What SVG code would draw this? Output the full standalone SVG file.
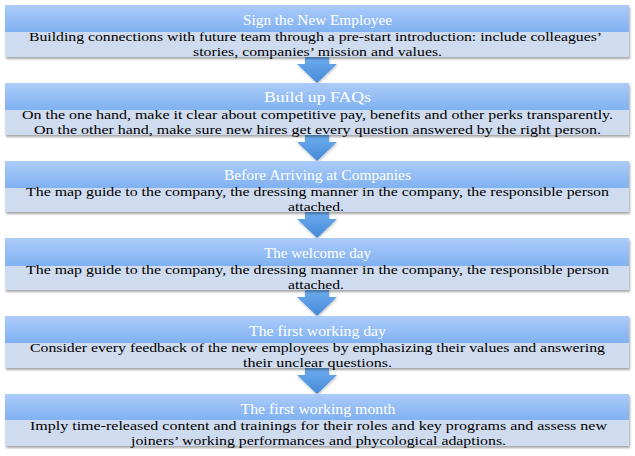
<svg xmlns="http://www.w3.org/2000/svg" width="635" height="456" viewBox="0 0 635 456">
<defs>
<linearGradient id="hdr" x1="0" y1="0" x2="0" y2="1">
<stop offset="0" stop-color="#acccfa"/>
<stop offset="1" stop-color="#80b1f1"/>
</linearGradient>
<linearGradient id="arr" x1="0" y1="0" x2="0" y2="1">
<stop offset="0" stop-color="#6cadee"/>
<stop offset="1" stop-color="#4689d8"/>
</linearGradient>
<filter id="sh" x="-5%" y="-20%" width="110%" height="150%">
<feDropShadow dx="1" dy="2" stdDeviation="1.3" flood-color="#000" flood-opacity="0.35"/>
</filter>
<filter id="ash" x="-30%" y="-30%" width="160%" height="160%">
<feDropShadow dx="0.5" dy="1.5" stdDeviation="1" flood-color="#000" flood-opacity="0.25"/>
</filter>
</defs>
<style>
.body{fill:#cfdbee}
.head{fill:url(#hdr)}
.t{font-family:"Liberation Serif","Times New Roman",serif;text-anchor:middle}
.h{font-size:15px;fill:#ffffff}
.b{font-size:13.5px;fill:#000000}
.a{fill:url(#arr)}
</style>
<g id="connectors" filter="url(#ash)">
<path class="a" d="M305,57 H329 V64 H337 L317,83 L297,64 H305 Z"/>
<path class="a" d="M305,135 H329 V142 H337 L317,161 L297,142 H305 Z"/>
<path class="a" d="M305,212 H329 V219 H337 L317,238 L297,219 H305 Z"/>
<path class="a" d="M305,290 H329 V297 H337 L317,316 L297,297 H305 Z"/>
<path class="a" d="M305,368 H329 V375 H337 L317,394 L297,375 H305 Z"/>
</g>
<g id="node1">
<g filter="url(#sh)"><rect class="body" x="5" y="5" width="624" height="52"/></g>
<rect class="head" x="5" y="5" width="624" height="27"/>
<text class="t h" x="317.5" y="25" textLength="149" lengthAdjust="spacingAndGlyphs">Sign the New Employee</text>
<text class="t b" x="315.5" y="41" textLength="573" lengthAdjust="spacingAndGlyphs">Building connections with future team through a pre-start introduction: include colleagues’</text>
<text class="t b" x="317.5" y="56" textLength="249" lengthAdjust="spacingAndGlyphs">stories, companies’ mission and values.</text>
</g>
<g id="node2">
<g filter="url(#sh)"><rect class="body" x="5" y="83" width="624" height="52"/></g>
<rect class="head" x="5" y="83" width="624" height="27"/>
<text class="t h" x="317.5" y="102" textLength="107" lengthAdjust="spacingAndGlyphs">Build up FAQs</text>
<text class="t b" x="317.5" y="119" textLength="591" lengthAdjust="spacingAndGlyphs">On the one hand, make it clear about competitive pay, benefits and other perks transparently.</text>
<text class="t b" x="317.5" y="134" textLength="567" lengthAdjust="spacingAndGlyphs">On the other hand, make sure new hires get every question answered by the right person.</text>
</g>
<g id="node3">
<g filter="url(#sh)"><rect class="body" x="5" y="161" width="624" height="51"/></g>
<rect class="head" x="5" y="161" width="624" height="27"/>
<text class="t h" x="317.5" y="180" textLength="187" lengthAdjust="spacingAndGlyphs">Before Arriving at Companies</text>
<text class="t b" x="317.5" y="196" textLength="583" lengthAdjust="spacingAndGlyphs">The map guide to the company, the dressing manner in the company, the responsible person</text>
<text class="t b" x="316" y="211" textLength="56" lengthAdjust="spacingAndGlyphs">attached.</text>
</g>
<g id="node4">
<g filter="url(#sh)"><rect class="body" x="5" y="238" width="624" height="52"/></g>
<rect class="head" x="5" y="238" width="624" height="28"/>
<text class="t h" x="317.5" y="258" textLength="107" lengthAdjust="spacingAndGlyphs">The welcome day</text>
<text class="t b" x="317.5" y="274" textLength="583" lengthAdjust="spacingAndGlyphs">The map guide to the company, the dressing manner in the company, the responsible person</text>
<text class="t b" x="316" y="289" textLength="56" lengthAdjust="spacingAndGlyphs">attached.</text>
</g>
<g id="node5">
<g filter="url(#sh)"><rect class="body" x="5" y="316" width="624" height="52"/></g>
<rect class="head" x="5" y="316" width="624" height="27"/>
<text class="t h" x="317.5" y="336" textLength="137" lengthAdjust="spacingAndGlyphs">The first working day</text>
<text class="t b" x="317.5" y="352" textLength="575" lengthAdjust="spacingAndGlyphs">Consider every feedback of the new employees by emphasizing their values and answering</text>
<text class="t b" x="317.5" y="367" textLength="149" lengthAdjust="spacingAndGlyphs">their unclear questions.</text>
</g>
<g id="node6">
<g filter="url(#sh)"><rect class="body" x="5" y="394" width="624" height="52"/></g>
<rect class="head" x="5" y="394" width="624" height="26"/>
<text class="t h" x="318" y="414" textLength="155" lengthAdjust="spacingAndGlyphs">The first working month</text>
<text class="t b" x="318.5" y="430" textLength="577" lengthAdjust="spacingAndGlyphs">Imply time-released content and trainings for their roles and key programs and assess new</text>
<text class="t b" x="318.5" y="445" textLength="375" lengthAdjust="spacingAndGlyphs">joiners’ working performances and phycological adaptions.</text>
</g>
</svg>
